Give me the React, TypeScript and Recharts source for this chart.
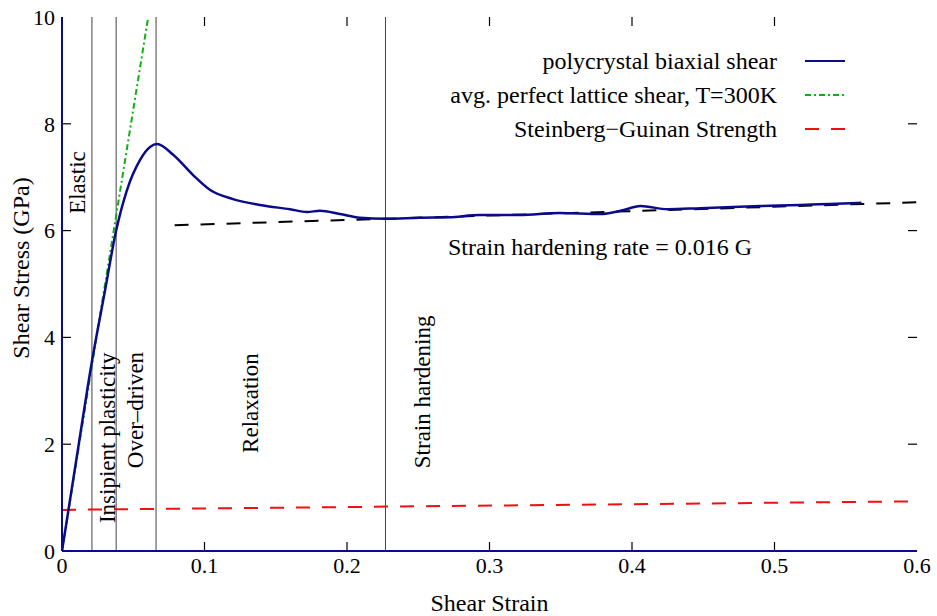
import { LineChart, Line, XAxis, YAxis, ReferenceLine, ReferenceDot } from "recharts";

// polycrystal biaxial shear (MD)
const polyStrain = [
  0, 0.01, 0.021, 0.03, 0.038, 0.0456, 0.0547, 0.062, 0.0667, 0.078, 0.092, 0.104, 0.12, 0.139, 0.16,
  0.172, 0.181, 0.195, 0.209, 0.227, 0.251, 0.272, 0.293, 0.321, 0.349, 0.378, 0.392, 0.406, 0.425,
  0.448, 0.49, 0.518, 0.539, 0.561,
];
const polyStress = [
  0, 1.7, 3.55, 4.85, 6.0, 6.76, 7.32, 7.57, 7.62, 7.42, 7.04, 6.76, 6.59, 6.48, 6.4, 6.35, 6.37, 6.31,
  6.24, 6.22, 6.24, 6.25, 6.29, 6.29, 6.33, 6.31, 6.37, 6.46, 6.4, 6.42, 6.46, 6.48, 6.5, 6.52,
];

// avg. perfect lattice shear
const latticeStrain = [0, 0.0605];
const latticeStress = [0, 10];

// Steinberg-Guinan strength
const sgStrain = [0, 0.6];
const sgStress = [0.77, 0.93];

// strain hardening fit
const fitStrain = [0.079, 0.6];
const fitStress = [6.1, 6.53];

const regionBounds = [0.021, 0.038, 0.066, 0.227];
const regionNames = ["Elastic", "Insipient plasticity", "Over\u2013driven", "Relaxation", "Strain hardening"];
const regionLabelStrain = [0.0102, 0.0312, 0.0509, 0.132, 0.2523];
const regionLabelStress = [6.9, 2.12, 2.64, 2.77, 2.98];

const xTicks = [0, 0.1, 0.2, 0.3, 0.4, 0.5, 0.6];
const yTicks = [0, 2, 4, 6, 8, 10];

const legendNames = ["polycrystal biaxial shear", "avg. perfect lattice shear, T=300K", "Steinberg\u2212Guinan Strength"];
const legendColors = ["#0b0b8a", "#10b010", "#f01010"];
const legendDash = ["", "6 3 2 3", "14 12"];

const NAVY = "#0b0b8a";
const FONT = "Liberation Serif, Times New Roman, DejaVu Serif, serif";
const TICK_LEN = 9;

const toPts = (xs: number[], ys: number[]) => xs.map((x, i) => ({ x, y: ys[i] }));

// a tick mark hung off a reference dot: dx/dy give the inward direction
const tickShape = (dx: number, dy: number) => (p: any) => (
  <line x1={p.cx} y1={p.cy} x2={p.cx + dx * TICK_LEN} y2={p.cy + dy * TICK_LEN} stroke="#000" strokeWidth={1.2} />
);

const YLabel = ({ viewBox }: any) => {
  const cx = viewBox.x + 21;
  const cy = viewBox.y + viewBox.height / 2 - 16;
  return (
    <text x={cx} y={cy} transform={`rotate(-90, ${cx}, ${cy})`} textAnchor="middle" dominantBaseline="central" fill="#000" fontSize={24} fontFamily={FONT}>
      Shear Stress (GPa)
    </text>
  );
};

export default function App() {
  const poly = toPts(polyStrain, polyStress);
  const lattice = toPts(latticeStrain, latticeStress);
  const sg = toPts(sgStrain, sgStress);
  const fit = toPts(fitStrain, fitStress);

  const tickStyle = { fill: "#000", fontSize: 22, fontFamily: FONT };
  const innerX = xTicks.slice(1, -1);
  const innerY = yTicks.slice(1, -1);

  const tickDots = [
    ...innerX.map((t) => ({ x: t, y: 0, shape: tickShape(0, -1), k: `b${t}` })),
    ...innerX.map((t) => ({ x: t, y: 10, shape: tickShape(0, 1), k: `t${t}` })),
    ...innerY.map((t) => ({ x: 0, y: t, shape: tickShape(1, 0), k: `l${t}` })),
    ...innerY.map((t) => ({ x: 0.6, y: t, shape: tickShape(-1, 0), k: `r${t}` })),
  ];

  return (
    <div style={{ position: "absolute", left: 0, top: 0, width: 937, height: 616, background: "#fff", fontFamily: FONT }}>
      <LineChart width={937} height={616} margin={{ top: 17, right: 20, left: 0, bottom: 0 }}>
        <XAxis
          dataKey="x"
          type="number"
          domain={[0, 0.6]}
          ticks={xTicks}
          interval={0}
          allowDataOverflow
          height={65}
          tickSize={0}
          tickMargin={6}
          tickLine={false}
          tick={tickStyle}
          tickFormatter={(v) => String(v)}
          axisLine={{ stroke: NAVY, strokeWidth: 2 }}
          label={{ value: "Shear Strain", position: "insideBottom", offset: 5, style: { fill: "#000", fontSize: 24, fontFamily: FONT } }}
        />
        <XAxis xAxisId="top" dataKey="x" type="number" orientation="top" domain={[0, 0.6]} height={0} tick={false} tickLine={false} axisLine={{ stroke: NAVY, strokeWidth: 2 }} />
        <YAxis
          type="number"
          domain={[0, 10]}
          ticks={yTicks}
          interval={0}
          allowDataOverflow
          width={62}
          tickSize={0}
          tickMargin={7}
          tickLine={false}
          tick={tickStyle}
          axisLine={{ stroke: NAVY, strokeWidth: 2 }}
          label={<YLabel />}
        />
        <YAxis yAxisId="right" type="number" orientation="right" domain={[0, 10]} width={0} tick={false} tickLine={false} axisLine={{ stroke: NAVY, strokeWidth: 2 }} />

        {regionBounds.map((b) => (
          <ReferenceLine key={b} x={b} stroke="#444" strokeWidth={1} />
        ))}

        <Line data={sg} dataKey="y" stroke={legendColors[2]} strokeWidth={2} strokeDasharray={legendDash[2]} dot={false} isAnimationActive={false} />
        <Line data={fit} dataKey="y" stroke="#000" strokeWidth={2} strokeDasharray="14 12" dot={false} isAnimationActive={false} />
        <Line data={lattice} dataKey="y" stroke={legendColors[1]} strokeWidth={2} strokeDasharray={legendDash[1]} dot={false} isAnimationActive={false} />
        <Line data={poly} dataKey="y" type="monotone" stroke={legendColors[0]} strokeWidth={2.5} dot={false} isAnimationActive={false} />

        {tickDots.map((d) => (
          <ReferenceDot key={d.k} x={d.x} y={d.y} r={1} ifOverflow="visible" shape={d.shape} />
        ))}

        {regionNames.map((name, i) => (
          <ReferenceDot
            key={name}
            x={regionLabelStrain[i]}
            y={regionLabelStress[i]}
            r={1}
            fill="none"
            stroke="none"
            label={{ value: name, position: "center", angle: -90, style: { fill: "#000", fontSize: 23, fontFamily: FONT } }}
          />
        ))}
        <ReferenceDot
          x={0.3775}
          y={5.71}
          r={1}
          fill="none"
          stroke="none"
          label={{ value: "Strain hardening rate = 0.016 G", position: "center", style: { fill: "#000", fontSize: 24, fontFamily: FONT } }}
        />
      </LineChart>

      <div style={{ position: "absolute", left: 375, top: 44, width: 470 }}>
        {legendNames.map((name, i) => (
          <div key={name} style={{ display: "flex", alignItems: "center", justifyContent: "flex-end", height: 34 }}>
            <span style={{ fontSize: 24, color: "#000", whiteSpace: "nowrap" }}>{name}</span>
            <svg width={40} height={10} style={{ marginLeft: 28 }}>
              <line x1={0} y1={5} x2={40} y2={5} stroke={legendColors[i]} strokeWidth={2} strokeDasharray={legendDash[i]} />
            </svg>
          </div>
        ))}
      </div>
    </div>
  );
}
